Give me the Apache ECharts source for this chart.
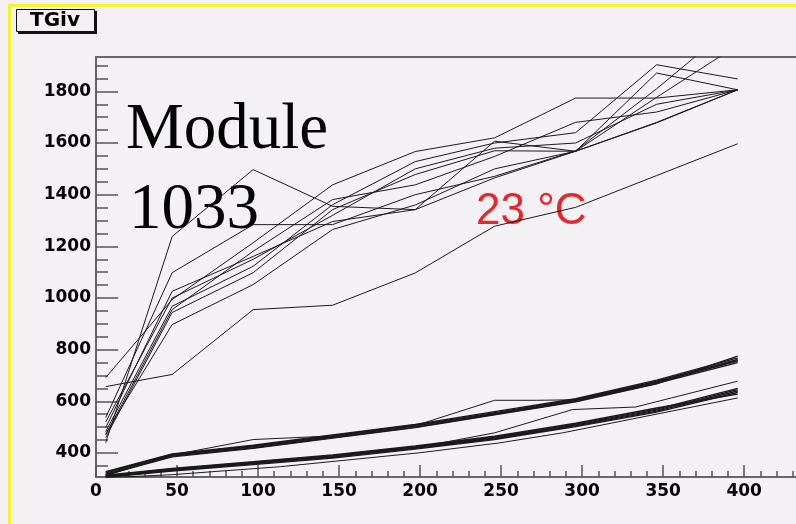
<!DOCTYPE html>
<html>
<head>
<meta charset="utf-8">
<title>TGiv</title>
<script src="https://cdn.jsdelivr.net/npm/echarts@6/dist/echarts.min.js"></script>
<style>
html, body { margin: 0; padding: 0; background: #f4f1f5; }
#chart { width: 796px; height: 524px; }
</style>
</head>
<body>
<div id="chart"></div>
<script>
// bias points (x) shared by most curves
var bias = [6, 47, 97, 146, 197, 246, 296, 346, 396];

// upper family of curves
var t1 = [440, 1238, 1497, 1355, 1342, 1607, 1568, 1871, 1806];
var t2 = [692, 994, 1214, 1438, 1567, 1620, 1774, 1774, 1806];
var t3 = [537, 1098, 1284, 1284, 1400, 1471, 1570, 1810, 2071];
var t4 = [498, 1026, 1161, 1296, 1342, 1465, 1568, 1777, 1979];
var t5 = [483, 968, 1123, 1361, 1528, 1600, 1640, 1903, 1848];
var t6 = [470, 955, 1181, 1381, 1438, 1548, 1680, 1720, 1806];
var t7 = [460, 944, 1098, 1342, 1478, 1570, 1568, 1678, 1806];
var t8 = [475, 897, 1052, 1265, 1360, 1500, 1568, 1680, 1806];
var t9 = [520, 1000, 1150, 1320, 1500, 1580, 1600, 1750, 1806];
var t10 = [657, 704, 955, 972, 1097, 1278, 1351, 1474, 1597];

// middle bundle
var a1 = [318, 388, 420, 460, 500, 550, 600, 670, 750];
var a2 = [322, 391, 424, 464, 504, 553, 603, 674, 756];
var a3 = [325, 394, 427, 467, 507, 556, 607, 678, 762];
var a4 = [328, 396, 430, 470, 510, 560, 610, 682, 768];
var a5 = [315, 385, 418, 458, 498, 548, 598, 668, 775];
var a6x = [6, 47, 97, 146, 200, 246, 272, 296, 346, 396];
var a6 = [312, 392, 452, 466, 512, 604, 604, 606, 676, 758];

// lower bundle
var b1 = [308, 333, 358, 383, 418, 455, 505, 562, 640];
var b2 = [310, 336, 361, 386, 421, 458, 508, 566, 645];
var b3 = [312, 338, 364, 389, 424, 461, 511, 570, 650];
var b4 = [306, 330, 355, 380, 415, 452, 502, 558, 634];
var b5 = [314, 340, 366, 392, 427, 465, 515, 574, 628];
var b6x = [6, 47, 97, 146, 197, 246, 294, 333, 396];
var b6 = [309, 334, 360, 385, 420, 478, 568, 578, 678];
var b7x = [6, 47, 114, 200, 249, 288, 396];
var b7 = [304, 316, 347, 401, 439, 478, 613];

// axis ticks
var xLabels = [0, 50, 100, 150, 200, 250, 300, 350, 400];
var xMinor = [0, 10, 20, 30, 40, 50, 60, 70, 80, 90, 100, 110, 120, 130, 140, 150, 160, 170, 180, 190, 200,
  210, 220, 230, 240, 250, 260, 270, 280, 290, 300, 310, 320, 330, 340, 350, 360, 370, 380, 390, 400, 410, 420, 430];
var yLabels = [400, 600, 800, 1000, 1200, 1400, 1600, 1800];
var yMinor = [350, 400, 450, 500, 550, 600, 650, 700, 750, 800, 850, 900, 950, 1000, 1050, 1100,
  1150, 1200, 1250, 1300, 1350, 1400, 1450, 1500, 1550, 1600, 1650, 1700, 1750, 1800, 1850, 1900];

function pairs(xs, ys) {
  return ys.map(function (v, i) { return [xs[i], v]; });
}

// [x values, y values, line width]
var curves = [
  [bias, t1, 1], [bias, t2, 1], [bias, t3, 1], [bias, t4, 1], [bias, t5, 1],
  [bias, t6, 1], [bias, t7, 1], [bias, t8, 1], [bias, t9, 1], [bias, t10, 1],
  [bias, a1, 1.4], [bias, a2, 1.4], [bias, a3, 1.4], [bias, a4, 1.4], [bias, a5, 1.4], [a6x, a6, 1],
  [bias, b1, 1.4], [bias, b2, 1.4], [bias, b3, 1.4], [bias, b4, 1.4], [bias, b5, 1.4], [b6x, b6, 1], [b7x, b7, 1]
];

var tickFont = { color: '#000', fontFamily: 'DejaVu Sans', fontWeight: 'bold', fontSize: 17,
  formatter: function (v) { return String(v); } };
var tickLine = { color: '#555', width: 1.5 };

var chart = echarts.init(document.getElementById('chart'));
chart.setOption({
  animation: false,
  backgroundColor: '#f4f1f5',
  grid: { left: 96, top: 57, right: 0, bottom: 47 },
  xAxis: [{
    type: 'value', min: 0, max: 432,
    splitLine: { show: false },
    axisLine: { lineStyle: { color: '#666', width: 2 } },
    axisTick: { inside: true, length: 12, customValues: xLabels, lineStyle: tickLine },
    axisLabel: Object.assign({ margin: 6, customValues: xLabels }, tickFont)
  }, {
    type: 'value', position: 'bottom', min: 0, max: 432,
    splitLine: { show: false },
    axisLine: { show: false },
    axisTick: { show: true, inside: true, length: 6, customValues: xMinor, lineStyle: tickLine },
    axisLabel: { show: false }
  }, {
    type: 'value', position: 'top', min: 0, max: 432,
    splitLine: { show: false },
    axisLine: { show: true, lineStyle: { color: '#666', width: 2 } },
    axisTick: { show: false }, axisLabel: { show: false }
  }],
  yAxis: [{
    type: 'value', min: 307, max: 1933,
    splitLine: { show: false },
    axisLine: { show: true, lineStyle: { color: '#666', width: 2 } },
    axisTick: { inside: true, length: 22, customValues: yLabels, lineStyle: tickLine },
    axisLabel: Object.assign({ margin: 5, customValues: yLabels }, tickFont)
  }, {
    type: 'value', position: 'left', min: 307, max: 1933,
    splitLine: { show: false },
    axisLine: { show: false },
    axisTick: { show: true, inside: true, length: 12, customValues: yMinor, lineStyle: tickLine },
    axisLabel: { show: false }
  }],
  series: curves.map(function (c) {
    return {
      type: 'line', xAxisIndex: 0, yAxisIndex: 0, z: 10,
      showSymbol: false, silent: true,
      lineStyle: { color: '#1a1a1a', width: c[2] },
      data: pairs(c[0], c[1])
    };
  }),
  graphic: [
    { type: 'rect', z: 1, shape: { x: 8, y: 4, width: 3, height: 520 }, style: { fill: '#f8f22a' } },
    { type: 'rect', z: 1, shape: { x: 8, y: 4, width: 788, height: 3 }, style: { fill: '#f8f22a' } },
    { type: 'rect', z: 1, shape: { x: 18, y: 11, width: 79, height: 23 }, style: { fill: '#111' } },
    { type: 'rect', z: 1, shape: { x: 16.5, y: 9.5, width: 78, height: 22 }, style: { fill: '#f4f1f5', stroke: '#111', lineWidth: 1 } },
    { type: 'text', z: 2, style: { text: 'TGiv', x: 55, y: 20.5, align: 'center', verticalAlign: 'middle',
      font: 'bold 20px "DejaVu Sans"', fill: '#000' } },
    { type: 'text', z: 1, style: { text: 'Module', x: 126, y: 131, verticalAlign: 'middle',
      font: '65px "Liberation Serif"', fill: '#000' } },
    { type: 'text', z: 1, style: { text: '1033', x: 129, y: 211, verticalAlign: 'middle',
      font: '65px "Liberation Serif"', fill: '#000' } },
    { type: 'text', z: 1, style: { text: '23 \u00b0C', x: 476, y: 212, verticalAlign: 'middle',
      font: '44px "Liberation Sans"', fill: '#e8262a' } }
  ]
});
</script>
</body>
</html>
